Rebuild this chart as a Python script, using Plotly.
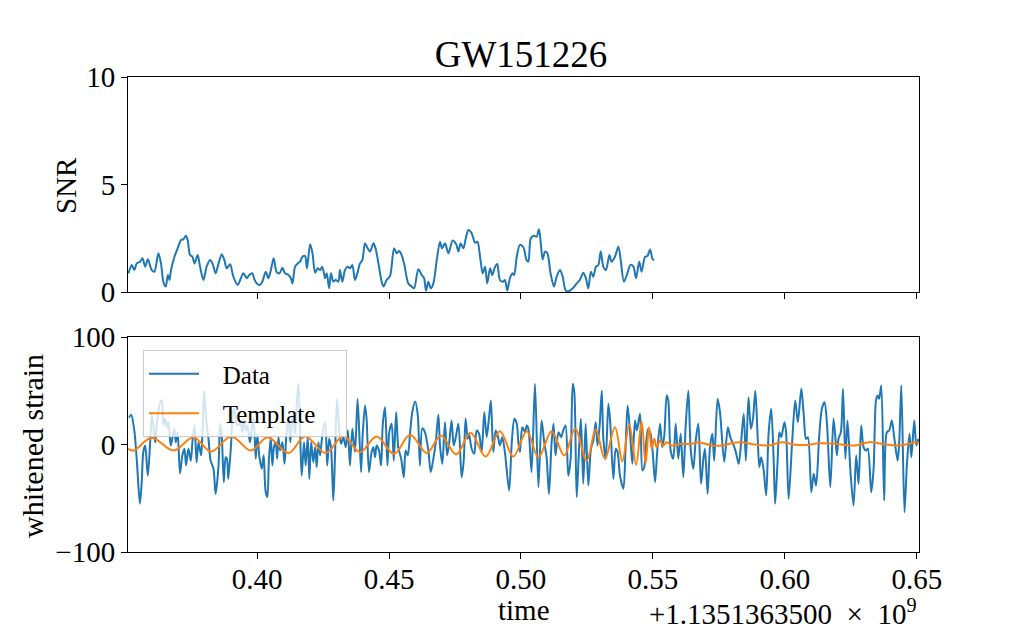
import plotly.graph_objects as go

# ---------------- data ----------------
# time axis values are seconds relative to the offset 1.1351363500e9
snr_time = [
    0.3513, 0.3525, 0.3535, 0.3544, 0.3557, 0.3566, 0.3576, 0.3586, 0.3601, 0.3611,
    0.3626, 0.3636, 0.3645, 0.3654, 0.3662, 0.3668, 0.3674, 0.3687, 0.3699, 0.3712,
    0.3721, 0.3730, 0.3737, 0.3746, 0.3755, 0.3763, 0.3775, 0.3784, 0.3797, 0.3809,
    0.3822, 0.3831, 0.3843, 0.3854, 0.3866, 0.3876, 0.3885, 0.3898, 0.3910, 0.3927,
    0.3936, 0.3948, 0.3961, 0.3970, 0.3982, 0.3990, 0.3999, 0.4011, 0.4020, 0.4033,
    0.4043, 0.4053, 0.4063, 0.4074, 0.4085, 0.4096, 0.4106, 0.4119, 0.4128, 0.4134,
    0.4144, 0.4154, 0.4163, 0.4172, 0.4182, 0.4189, 0.4201, 0.4210, 0.4220, 0.4230,
    0.4239, 0.4247, 0.4258, 0.4264, 0.4273, 0.4280, 0.4289, 0.4298, 0.4308, 0.4314,
    0.4323, 0.4333, 0.4343, 0.4352, 0.4361, 0.4371, 0.4380, 0.4390, 0.4399, 0.4409,
    0.4419, 0.4428, 0.4441, 0.4449, 0.4460, 0.4472, 0.4479, 0.4491, 0.4504,
    0.4519, 0.4529, 0.4538, 0.4545, 0.4557, 0.4573, 0.4586, 0.4595, 0.4611, 0.4624,
    0.4633, 0.4640, 0.4649, 0.4658, 0.4668, 0.4681, 0.4693, 0.4701, 0.4712, 0.4725,
    0.4741, 0.4754, 0.4763, 0.4771, 0.4782, 0.4792, 0.4801, 0.4813, 0.4826, 0.4835,
    0.4845, 0.4855, 0.4864, 0.4872, 0.4883, 0.4891, 0.4902, 0.4910, 0.4920, 0.4931,
    0.4939, 0.4948, 0.4958, 0.4968, 0.4974, 0.4984, 0.4996, 0.5009, 0.5021, 0.5028,
    0.5037, 0.5049, 0.5059, 0.5068, 0.5075, 0.5082, 0.5091, 0.5100, 0.5112, 0.5125,
    0.5135, 0.5148, 0.5158, 0.5170, 0.5183, 0.5196, 0.5211, 0.5223, 0.5236, 0.5246,
    0.5255, 0.5265, 0.5274, 0.5284, 0.5293, 0.5302, 0.5312, 0.5322, 0.5335, 0.5343,
    0.5356, 0.5369, 0.5377, 0.5390, 0.5403, 0.5415, 0.5426, 0.5436, 0.5448, 0.5457,
    0.5470, 0.5479, 0.5489, 0.5499, 0.5505,
]
snr_values = [
    0.87, 1.26, 1.02, 1.33, 1.41, 1.57, 1.18, 1.52, 1.02, 0.94,
    1.80, 1.33, 0.48, 0.25, 0.79, 0.56, 1.02, 1.64, 2.03, 2.42,
    2.45, 2.62, 2.42, 1.72, 1.64, 1.33, 1.72, 1.18, 0.56, 1.18,
    1.49, 1.33, 0.87, 1.33, 1.75, 1.49, 1.10, 1.29, 0.71, 0.33,
    0.56, 0.87, 0.64, 0.79, 0.87, 0.59, 0.40, 0.33, 0.48, 0.94,
    0.64, 1.06, 1.57, 0.94, 0.87, 1.13, 0.87, 0.79, 0.64, 0.40,
    1.18, 1.33, 1.41, 1.64, 1.67, 1.10, 2.22, 1.80, 0.90, 1.10,
    1.02, 1.18, 0.64, 0.87, 0.17, 0.87, 0.48, 0.56, 0.48, 1.02,
    0.48, 1.02, 1.18, 1.10, 1.26, 0.56, 0.87, 1.33, 1.49, 2.27,
    2.03, 1.88, 2.27, 2.03, 1.33, 0.48, 0.25, 0.56, 0.75,
    2.03, 1.80, 1.91, 1.80, 1.33, 0.40, 0.25, 0.17, 1.06, 0.79,
    0.64, 0.06, 0.48, 0.17, 0.40, 1.49, 2.34, 2.03, 2.27, 1.80,
    2.39, 2.23, 1.88, 2.27, 2.03, 2.57, 2.88, 2.73, 2.29, 2.34,
    1.64, 0.87, 1.18, 0.40, 1.10, 0.79, 1.18, 1.30, 0.56, 0.48,
    0.56, 0.06, 0.64, 0.87, 0.79, 1.64, 2.19, 2.08, 1.49, 1.41,
    2.50, 2.62, 2.57, 2.92, 2.27, 1.52, 1.88, 1.80, 0.87, 0.25,
    0.71, 1.02, 0.71, 0.06, 0.05, 0.17, 0.40, 0.56, 0.90, 0.64,
    0.17, 0.94, 0.71, 1.18, 1.26, 1.88, 1.18, 1.02, 1.72, 1.41,
    1.64, 2.11, 1.57, 0.48, 0.87, 1.26, 1.18, 0.64, 1.41, 0.94,
    1.64, 1.67, 1.98, 1.52, 1.49,
]

strain_time = [
    # 0.35 - 0.426
    0.3515, 0.3523, 0.3535, 0.3544, 0.3556, 0.3563, 0.3569, 0.3576, 0.3586, 0.3595,
    0.3601, 0.3607, 0.3614, 0.3621, 0.3633, 0.3639, 0.3645, 0.3652, 0.3658, 0.3664,
    0.3673, 0.3681, 0.3687, 0.3692, 0.3699, 0.3708, 0.3717, 0.3725, 0.3731, 0.3740,
    0.3749, 0.3756, 0.3763, 0.3771, 0.3778, 0.3788, 0.3793, 0.3799, 0.3807, 0.3816,
    0.3824, 0.3835, 0.3843, 0.3854, 0.3860, 0.3866, 0.3874, 0.3881, 0.3886, 0.3891,
    0.3902, 0.3908, 0.3914, 0.3920, 0.3929, 0.3937, 0.3944, 0.3951, 0.3957, 0.3963,
    0.3973, 0.3980, 0.3987, 0.3995, 0.4001, 0.4009, 0.4018, 0.4025, 0.4032, 0.4039,
    0.4045, 0.4052, 0.4058, 0.4064, 0.4071, 0.4076, 0.4081, 0.4087, 0.4096, 0.4104,
    0.4112, 0.4119, 0.4126, 0.4134, 0.4144, 0.4152, 0.4157, 0.4163, 0.4169, 0.4178,
    0.4184, 0.4192, 0.4198, 0.4205, 0.4213, 0.4220, 0.4226, 0.4232, 0.4239, 0.4245,
    0.4251, 0.4258,
    # 0.426 - 0.5015
    0.4266, 0.4273, 0.4280, 0.4289, 0.4295, 0.4303, 0.4311, 0.4318, 0.4327, 0.4336,
    0.4344, 0.4352, 0.4361, 0.4371, 0.4381, 0.4394, 0.4400, 0.4409, 0.4415, 0.4424,
    0.4434, 0.4441, 0.4447, 0.4453, 0.4462, 0.4470, 0.4476, 0.4485, 0.4494, 0.4501,
    0.4510, 0.4518, 0.4527, 0.4535, 0.4546, 0.4556, 0.4563, 0.4571, 0.4580, 0.4588,
    0.4599, 0.4609, 0.4617, 0.4626, 0.4636, 0.4649, 0.4658, 0.4668, 0.4677, 0.4687,
    0.4693, 0.4702, 0.4712, 0.4720, 0.4727, 0.4737, 0.4745, 0.4753, 0.4763, 0.4775,
    0.4783, 0.4790, 0.4798, 0.4803, 0.4813, 0.4823, 0.4832, 0.4841, 0.4851, 0.4861,
    0.4870, 0.4879, 0.4886, 0.4895, 0.4904, 0.4912, 0.4920, 0.4929, 0.4939, 0.4955,
    0.4965, 0.4975, 0.4984, 0.4990, 0.4996, 0.5005, 0.5015,
    # 0.5015 - 0.577
    0.5022, 0.5028, 0.5040, 0.5053, 0.5066, 0.5078, 0.5088, 0.5097, 0.5106, 0.5116,
    0.5123, 0.5131, 0.5142, 0.5152, 0.5160, 0.5169, 0.5179, 0.5188, 0.5196, 0.5202,
    0.5211, 0.5220, 0.5227, 0.5236, 0.5245, 0.5255, 0.5265, 0.5274, 0.5283, 0.5290,
    0.5298, 0.5306, 0.5312, 0.5321, 0.5331, 0.5338, 0.5350, 0.5359, 0.5366, 0.5375,
    0.5388, 0.5396, 0.5404, 0.5413, 0.5422, 0.5432, 0.5439, 0.5451, 0.5460, 0.5467,
    0.5475, 0.5482, 0.5491, 0.5499, 0.5508, 0.5516, 0.5527, 0.5535, 0.5543, 0.5552,
    0.5558, 0.5567, 0.5577, 0.5586, 0.5596, 0.5605, 0.5615, 0.5624, 0.5634, 0.5643,
    0.5653, 0.5662, 0.5672, 0.5682, 0.5691, 0.5697, 0.5707, 0.5716, 0.5725, 0.5732,
    0.5745, 0.5754,
    # 0.577 - 0.651
    0.5770, 0.5784, 0.5793, 0.5806, 0.5814, 0.5825, 0.5835, 0.5844, 0.5852, 0.5862,
    0.5871, 0.5879, 0.5888, 0.5897, 0.5903, 0.5910, 0.5919, 0.5929, 0.5938, 0.5948,
    0.5957, 0.5963, 0.5972, 0.5979, 0.5986, 0.5998, 0.6004, 0.6014, 0.6027, 0.6039,
    0.6049, 0.6062, 0.6071, 0.6080, 0.6087, 0.6100, 0.6109, 0.6118, 0.6130, 0.6140,
    0.6150, 0.6159, 0.6172, 0.6184, 0.6191, 0.6197, 0.6203, 0.6212, 0.6220, 0.6229,
    0.6237, 0.6248, 0.6260, 0.6270, 0.6279, 0.6289, 0.6298, 0.6307, 0.6314, 0.6327,
    0.6336, 0.6345, 0.6351, 0.6357, 0.6365, 0.6376, 0.6386, 0.6395, 0.6405, 0.6414,
    0.6427, 0.6433, 0.6441, 0.6453, 0.6462, 0.6472, 0.6479, 0.6490, 0.6498, 0.6506,
]
strain_values = [
    25.0, 27.6, 13.0, -13.3, -55.0, -35.0, -7.0, -1.0, -29.0, 2.0,
    27.0, 17.7, 2.0, 20.8, 39.4, 41.0, 17.7, 23.9, 16.1, 20.8,
    -1.0, 8.4, 14.6, 2.0, 11.5, -27.0, -10.0, -4.0, -19.5, -4.0,
    -15.0, 5.3, 17.7, -16.5, 2.0, -10.0, 10.0, 50.0, 24.0, 5.3,
    -15.0, -22.6, -46.0, -19.5, 19.2, 8.4, -35.0, -11.8, -13.3, -32.0,
    2.0, 30.0, 33.2, 20.8, 17.7, 20.8, 11.5, 22.3, 13.0, 17.7,
    2.0, 14.6, 24.0, -13.3, 8.4, -11.8, -22.6, -10.0, -42.8, -49.0,
    -13.3, 6.8, -19.5, -2.5, 2.0, -13.3, 6.8, -5.6, 2.0, -18.0,
    13.0, 24.0, 2.0, 27.0, 10.0, 45.6, 56.4, 13.0, -29.0, 2.0,
    -19.5, 6.8, -32.0, 2.0, -16.5, -2.5, -21.0, 2.0, -10.0, 3.7,
    14.6, 20.8,
    -19.5, 5.3, -2.5, -52.0, -13.3, 42.5, 14.6, 0.6, 6.8, -2.5,
    13.0, -19.5, 14.6, -7.0, 42.5, -25.7, 8.4, 36.3, 24.0, -25.7,
    -7.0, -2.5, -11.8, -0.9, -5.6, -19.5, 17.7, 34.7, -19.5, 11.5,
    19.2, -15.0, 30.0, -2.5, -13.3, -30.4, -5.6, -10.0, 11.5, 30.0,
    40.0, 27.0, -19.5, 15.2, 11.5, -5.6, -25.7, -13.3, 2.0, 27.6,
    -0.9, -18.0, 20.8, -10.0, -0.9, 22.3, -0.9, 6.8, 19.2, -30.4,
    -15.0, 24.0, 5.3, 10.0, -4.0, -8.7, 13.0, 10.0, -7.0, 30.0,
    6.8, 25.4, 41.0, -7.0, 13.0, 8.4, -0.9, 6.8, -7.0, -42.8,
    2.0, 24.0, 19.2, 2.0, -7.0, 16.1, 11.5,
    17.7, 14.6, -25.7, 56.4, -39.7, 22.3, 2.0, -11.8, -46.0, 2.0,
    19.2, -10.0, 11.5, 6.8, 13.0, 17.7, -29.0, -13.3, 56.4, 48.7,
    -49.0, -4.0, 24.0, -36.6, 19.2, -38.1, -4.0, 3.7, 20.8, -0.9,
    17.7, 50.0, 5.3, -13.3, 37.8, 20.8, -32.0, -4.0, -7.0, -29.0,
    -41.2, -4.0, 36.3, 11.5, -18.0, 22.3, 13.0, 28.5, -24.2, -21.0,
    3.7, 14.6, 10.0, -7.0, -35.0, -7.0, 19.2, -2.5, 8.4, 45.6,
    41.0, -5.6, -13.3, 19.2, -13.3, 10.0, -30.4, 17.7, 50.0, -4.0,
    -22.6, 3.7, 19.2, -36.6, -13.3, -4.0, -46.0, -2.5, 10.0, -15.0,
    42.5, 30.0,
    -16.0, 16.1, 6.8, -0.9, -7.0, -18.0, 5.3, 28.5, -15.0, 44.0,
    14.6, 24.0, 50.0, 5.3, -21.0, -11.8, -22.6, -47.4, 10.0, 33.2,
    -11.8, -55.0, -16.5, 11.5, 6.8, 20.8, 13.0, -50.5, 0.6, 41.0,
    20.8, 51.8, 28.5, 5.3, 6.8, -44.4, -27.3, -38.1, 8.4, 33.2,
    39.4, 20.8, -39.7, 24.0, 6.8, -10.0, 5.3, 11.5, 51.8, -13.3,
    22.3, -24.2, -56.7, -10.0, -36.6, 17.7, -2.5, -5.6, -4.0, -44.4,
    -22.6, 41.0, 45.6, 42.5, 54.9, -52.0, 11.5, 13.0, 22.3, 6.8,
    -15.0, 2.0, 54.9, -63.0, -19.5, 10.0, -11.8, 22.3, -0.9, 5.3,
]

template_time = [
    0.3511, 0.3532, 0.3601, 0.3683, 0.3759, 0.3826, 0.3902, 0.3977, 0.4040, 0.4119,
    0.4182, 0.4260, 0.4327, 0.4390, 0.4453, 0.4519, 0.4580, 0.4643, 0.4697, 0.4754,
    0.4809, 0.4866, 0.4920, 0.4971, 0.5022, 0.5066, 0.5116, 0.5164, 0.5205, 0.5249,
    0.5283, 0.5318, 0.5356, 0.5384, 0.5410, 0.5436, 0.5457, 0.5472, 0.5485, 0.5495,
    0.5505, 0.5514, 0.5527, 0.5539, 0.5552, 0.5571, 0.5609, 0.5647, 0.5672, 0.5722,
    0.5761, 0.5825, 0.5888, 0.5938, 0.5989, 0.6039, 0.6090, 0.6128, 0.6191, 0.6266,
    0.6317, 0.6367, 0.6431, 0.6500, 0.6508,
]
template_values = [
    -4.0, -5.6, 6.2, -5.6, 6.8, -6.5, 7.4, -5.6, 6.8, -7.8,
    7.4, -7.8, 7.8, -7.1, 7.4, -8.7, 9.0, -7.8, 8.4, -9.3,
    10.9, -11.2, 12.4, -11.2, 12.4, -11.8, 12.1, -10.2, 14.6, -14.9,
    14.0, -13.3, 16.1, -15.8, 18.6, -18.9, 21.4, -18.0, 16.1, -4.0,
    5.3, -2.5, 3.7, -0.9, 2.2, -0.9, 0.6, 0.6, 2.2, -0.9,
    -0.9, 2.2, 0.0, -0.9, 2.2, -0.3, -0.3, 1.2, 0.6, -0.9,
    2.2, 0.6, -0.9, 2.2, 1.8,
]

x_ticks = [0.40, 0.45, 0.50, 0.55, 0.60, 0.65]
snr_ticks = [0, 5, 10]
strain_ticks = [-100, 0, 100]

# ---------------- figure ----------------
FONT = "Liberation Serif"
BLUE = "#1f77b4"
ORANGE = "#ff7f0e"
NB = "\u00a0"

fig = go.Figure()
fig.add_trace(go.Scatter(
    x=snr_time, y=snr_values, mode="lines", line=dict(color=BLUE, width=2, shape="spline", smoothing=0.8),
    xaxis="x", yaxis="y", showlegend=False, name="SNR"))
fig.add_trace(go.Scatter(
    x=strain_time, y=strain_values, mode="lines", line=dict(color=BLUE, width=2, shape="spline", smoothing=0.8),
    xaxis="x2", yaxis="y2", name=NB * 3 + "Data", legendgroup="a"))
fig.add_trace(go.Scatter(
    x=template_time, y=template_values, mode="lines", line=dict(color=ORANGE, width=2, shape="spline", smoothing=1.0),
    xaxis="x2", yaxis="y2", name=NB * 3 + "Template" + NB * 4, legendgroup="b"))

xr = [0.3511, 0.6508]
axis_common = dict(showline=True, linecolor="black", linewidth=1, mirror=True,
                   ticks="outside", ticklen=6, tickwidth=1, tickcolor="black",
                   showgrid=False, zeroline=False,
                   tickfont=dict(family=FONT, size=29, color="black"))

# page body has an 8px margin: figure is 8px smaller and offset accordingly
W, Hfig = 1013, 623
H = 475.0
fig.update_layout(
    width=W, height=Hfig,
    margin=dict(l=120, r=102, t=69, b=79),
    paper_bgcolor="white", plot_bgcolor="white",
    xaxis=dict(domain=[0, 1], range=xr, anchor="y", tickvals=x_ticks, showticklabels=False,
               matches="x2", **axis_common),
    yaxis=dict(domain=[(552 - 292) / H, 1], range=[0, 10], tickvals=snr_ticks, anchor="x", **axis_common),
    xaxis2=dict(domain=[0, 1], range=xr, anchor="y2", tickvals=x_ticks, tickformat=".2f",
                ticklabelstandoff=-5, **axis_common),
    yaxis2=dict(domain=[0, (552 - 337) / H], range=[-100, 100], tickvals=strain_ticks, anchor="x2", **axis_common),
    title=dict(text="GW151226", x=(521 - 8) / W, xanchor="center", y=1 - (54 - 8) / Hfig, yanchor="middle",
               yref="container", font=dict(family=FONT, size=37, color="black")),
    legend=dict(x=15 / 791, y=(552 - 350) / H, xanchor="left", yanchor="top",
                bgcolor="rgba(255,255,255,0.8)", bordercolor="#cccccc", borderwidth=1,
                font=dict(family=FONT, size=25, color="black"), traceorder="grouped",
                tracegroupgap=4, itemwidth=50),
    showlegend=True,
)

ann_font = dict(family=FONT, size=29, color="black")
fig.add_annotation(text="SNR", xref="paper", yref="paper", x=(66 - 128) / 791, y=(552 - 185) / H,
                   textangle=-90, showarrow=False, font=ann_font, xanchor="center", yanchor="middle")
fig.add_annotation(text="whitened strain", xref="paper", yref="paper", x=(32 - 128) / 791, y=(552 - 446) / H,
                   textangle=-90, showarrow=False, font=dict(family=FONT, size=30, color="black"),
                   xanchor="center", yanchor="middle")
fig.add_annotation(text="time", xref="paper", yref="paper", x=(524 - 128) / 791, y=(552 - 610) / H,
                   showarrow=False, font=ann_font, xanchor="center", yanchor="middle")
fig.add_annotation(text="+1.1351363500" + NB * 2 + "×" + NB * 2 + "10<sup>9</sup>",
                   xref="paper", yref="paper", x=1.0, y=(552 - 612) / H,
                   showarrow=False, font=ann_font, xanchor="right", yanchor="middle")

fig.write_html("out.html")
